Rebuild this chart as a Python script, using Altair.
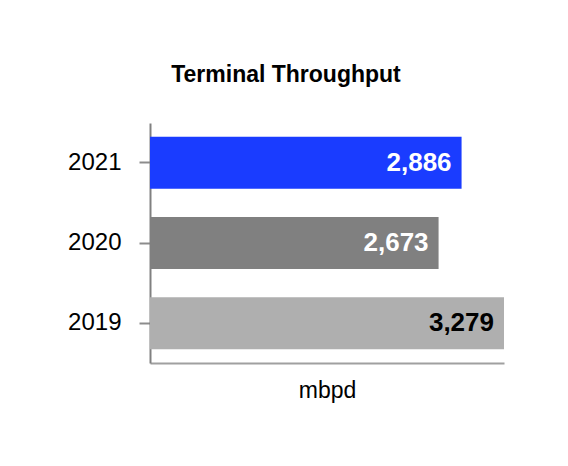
import altair as alt
import pandas as pd

years = ["2021", "2020", "2019"]
values = [2886, 2673, 3279]
bar_colors = ["#1a3cff", "#808080", "#afafaf"]

df = pd.DataFrame({"year": years, "value": values})

y_enc = alt.Y(
    "year:N",
    sort=years,
    title=None,
    scale=alt.Scale(paddingInner=0.35, paddingOuter=0.17),
    axis=alt.Axis(
        labelFont="Liberation Sans",
        labelFontSize=24,
        labelColor="#000000",
        labelPadding=18,
        tickSize=11,
        tickColor="#8c8c8c",
        tickWidth=2,
        domainColor="#808080",
        domainWidth=2,
    ),
)

x_enc = alt.X(
    "value:Q",
    scale=alt.Scale(domain=[0, 3279], nice=False, zero=True),
    axis=alt.Axis(
        title="mbpd",
        titleFont="Liberation Sans",
        titleFontSize=23,
        titleFontWeight="normal",
        titleColor="#000000",
        titlePadding=16,
        labels=False,
        ticks=False,
        grid=False,
        domainColor="#a0a0a0",
        domainWidth=2,
    ),
)

bars = alt.Chart(df).mark_bar().encode(
    x=x_enc,
    y=y_enc,
    color=alt.Color("year:N", scale=alt.Scale(domain=years, range=bar_colors), legend=None),
)

labels = alt.Chart(df).mark_text(
    align="right",
    baseline="middle",
    dx=-10,
    font="Liberation Sans",
    fontSize=26,
    fontWeight="bold",
).encode(
    x=alt.X("value:Q"),
    y=alt.Y("year:N", sort=years),
    text=alt.Text("value:Q", format=","),
    color=alt.condition(alt.datum.year == "2019", alt.value("#000000"), alt.value("#ffffff")),
)

chart = (
    alt.layer(bars, labels)
    .properties(
        width=354,
        height=240,
        autosize=alt.AutoSizeParams(type="none"),
        padding={"left": 142, "top": 115, "right": 10, "bottom": 80},
        title=alt.TitleParams(
            "Terminal Throughput",
            font="Liberation Sans",
            fontSize=23,
            fontWeight="bold",
            color="#000000",
            anchor="middle",
            dx=-41,
            offset=36,
        ),
    )
    .configure_view(stroke=None)
)

chart.save("out.html", embed_options={"renderer": "svg", "actions": False})
